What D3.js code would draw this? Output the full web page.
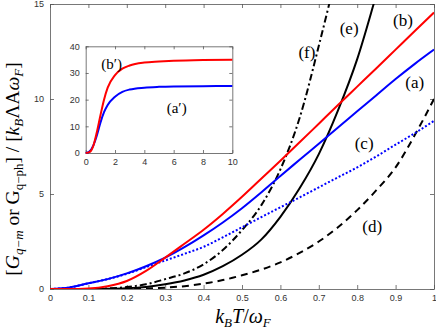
<!DOCTYPE html>
<html>
<head>
<meta charset="utf-8">
<script src="https://cdnjs.cloudflare.com/ajax/libs/d3/7.8.5/d3.min.js"></script>
<style>
body { margin: 0; background: #fff; }
.tick text { font-family: "Liberation Sans", Arial, sans-serif; font-size: 9px; fill: #333; }
.lbl { font-family: "Liberation Serif", "Times New Roman", serif; }
</style>
</head>
<body>
<div id="graph-area"></div>
<script>
// main panel, x = k_B T / w_F
var xs = [0, 0.05, 0.1, 0.15, 0.2, 0.25, 0.3, 0.35, 0.4, 0.45, 0.5, 0.55, 0.6, 0.65, 0.7, 0.75, 0.8, 0.85, 0.9, 0.95, 1.0];
var curveA = [0, 0.08, 0.3, 0.52, 0.82, 1.2, 1.65, 2.2, 2.82, 3.5, 4.25, 5.08, 5.95, 6.8, 7.65, 8.5, 9.35, 10.2, 11.05, 11.85, 12.6];
var curveB = [0, 0, 0.03, 0.15, 0.42, 0.95, 1.65, 2.38, 3.12, 3.95, 4.85, 5.8, 6.75, 7.72, 8.7, 9.68, 10.65, 11.62, 12.6, 13.58, 14.55];
var curveC = [0, 0.08, 0.3, 0.52, 0.8, 1.15, 1.5, 1.85, 2.22, 2.72, 3.25, 3.78, 4.3, 4.82, 5.35, 5.88, 6.4, 6.98, 7.6, 8.2, 8.85];
var curveD = [0, 0, 0, 0, 0.01, 0.03, 0.07, 0.15, 0.28, 0.47, 0.72, 1.02, 1.4, 1.9, 2.5, 3.25, 4.15, 5.2, 6.4, 8.1, 10.0];
var curveE = [0, 0, 0, 0.01, 0.04, 0.11, 0.25, 0.45, 0.75, 1.2, 1.8, 2.6, 3.8, 5.3, 7.1, 9.4, 12.1, 15.5, 19, 23, 27];
var curveF = [0, 0, 0, 0.03, 0.1, 0.25, 0.52, 0.82, 1.3, 2.05, 3.1, 4.4, 6.3, 9.0, 12.8, 17, 22, 27, 32, 37, 42];

var xTicks = [0, 0.1, 0.2, 0.3, 0.4, 0.5, 0.6, 0.7, 0.8, 0.9, 1];
var yTicks = [0, 5, 10, 15];

// inset, same quantities over a wider range
var insetX = [0, 0.25, 0.5, 0.75, 1, 1.25, 1.5, 2, 2.5, 3, 4, 5, 6, 8, 10];
var insetA = [0, 0.5, 2.6, 6.4, 11.3, 15.3, 18, 21.1, 22.9, 23.8, 24.5, 24.8, 24.95, 25.05, 25.1];
var insetB = [0, 0.3, 2.4, 7.6, 14, 20, 24.5, 29.2, 31.6, 32.8, 33.9, 34.3, 34.6, 34.9, 35.0];
var insetXTicks = [0, 2, 4, 6, 8, 10];
var insetYTicks = [0, 10, 20, 30, 40];

var width = 436, height = 333;

var svg = d3.select("#graph-area").append("svg")
    .attr("width", width)
    .attr("height", height);

var x = d3.scaleLinear().domain([0, 1]).range([50, 434]);
var y = d3.scaleLinear().domain([0, 15]).range([289, 4]);

svg.append("clipPath").attr("id", "clip")
    .append("rect")
    .attr("x", 50).attr("y", 4)
    .attr("width", 384).attr("height", 285);

// frame with inward ticks on all four sides
function frame(g, sx, sy, xt, yt, tl) {
    var x0 = sx.range()[0], x1 = sx.range()[1], y0 = sy.range()[0], y1 = sy.range()[1];
    var fmt = d3.format("~g");
    g.append("g").attr("transform", "translate(0," + y0 + ")")
        .call(d3.axisBottom(sx).tickValues(xt).tickFormat(fmt).tickSizeInner(-tl).tickSizeOuter(0).tickPadding(6));
    g.append("g").attr("transform", "translate(" + x0 + ",0)")
        .call(d3.axisLeft(sy).tickValues(yt).tickFormat(fmt).tickSizeInner(-tl).tickSizeOuter(0).tickPadding(6));
    g.append("g").attr("transform", "translate(0," + y1 + ")")
        .call(d3.axisTop(sx).tickValues(xt).tickSizeInner(-tl).tickSizeOuter(0).tickFormat(""));
    g.append("g").attr("transform", "translate(" + x1 + ",0)")
        .call(d3.axisRight(sy).tickValues(yt).tickSizeInner(-tl).tickSizeOuter(0).tickFormat(""));
    g.selectAll(".domain, .tick line").attr("stroke", "#555").attr("stroke-width", 0.8);
}

var main = svg.append("g");
frame(main, x, y, xTicks, yTicks, 4);

var line = d3.line()
    .x(function(d) { return x(d[0]); })
    .y(function(d) { return y(d[1]); })
    .curve(d3.curveMonotoneX);

var series = [
    {vals: curveD, color: "black", dash: "7,5"},
    {vals: curveE, color: "black", dash: null},
    {vals: curveF, color: "black", dash: "7,3,2,3"},
    {vals: curveC, color: "blue", dash: "2,2"},
    {vals: curveA, color: "blue", dash: null},
    {vals: curveB, color: "red", dash: null}
];

var plot = svg.append("g").attr("clip-path", "url(#clip)");
series.forEach(function(s) {
    plot.append("path")
        .datum(xs.map(function(v, i) { return [v, s.vals[i]]; }))
        .attr("fill", "none")
        .attr("stroke", s.color)
        .attr("stroke-width", 2)
        .attr("stroke-dasharray", s.dash)
        .attr("d", line);
});

// curve labels
var labels = [
    {t: "(a)", x: 0.95, y: 10.6},
    {t: "(b)", x: 0.919, y: 13.82},
    {t: "(c)", x: 0.818, y: 7.37},
    {t: "(d)", x: 0.839, y: 2.99},
    {t: "(e)", x: 0.779, y: 13.4},
    {t: "(f)", x: 0.669, y: 12.17}
];
svg.selectAll(".clabel").data(labels).enter().append("text")
    .attr("class", "lbl")
    .attr("x", function(d) { return x(d.x); })
    .attr("y", function(d) { return y(d.y); })
    .attr("text-anchor", "middle")
    .attr("font-size", 17)
    .text(function(d) { return d.t; });

// inset
var ix = d3.scaleLinear().domain([0, 10]).range([85.7, 232.3]);
var iy = d3.scaleLinear().domain([0, 40]).range([153, 46.3]);
var inset = svg.append("g");
inset.append("rect")
    .attr("x", 85.7).attr("y", 46.3)
    .attr("width", 146.6).attr("height", 106.7)
    .attr("fill", "white");
frame(inset, ix, iy, insetXTicks, insetYTicks, 3);

var iline = d3.line()
    .x(function(d) { return ix(d[0]); })
    .y(function(d) { return iy(d[1]); })
    .curve(d3.curveMonotoneX);

[{vals: insetA, color: "blue"}, {vals: insetB, color: "red"}].forEach(function(s) {
    inset.append("path")
        .datum(insetX.map(function(v, i) { return [v, s.vals[i]]; }))
        .attr("fill", "none")
        .attr("stroke", s.color)
        .attr("stroke-width", 2)
        .attr("d", iline);
});

inset.append("text").attr("class", "lbl")
    .attr("x", 111.7).attr("y", 68.5).attr("text-anchor", "middle").attr("font-size", 15)
    .text("(b\u2032)");
inset.append("text").attr("class", "lbl")
    .attr("x", 176.7).attr("y", 112.5).attr("text-anchor", "middle").attr("font-size", 15)
    .text("(a\u2032)");

// axis titles
var xt = svg.append("text").attr("class", "lbl")
    .attr("x", 243).attr("y", 323).attr("text-anchor", "middle").attr("font-size", 20);
xt.append("tspan").attr("font-style", "italic").text("k");
xt.append("tspan").attr("font-style", "italic").attr("font-size", 13).attr("dy", 4).text("B");
xt.append("tspan").attr("font-style", "italic").attr("dy", -4).text("T");
xt.append("tspan").text("/");
xt.append("tspan").attr("font-style", "italic").text("\u03C9");
xt.append("tspan").attr("font-style", "italic").attr("font-size", 13).attr("dy", 4).text("F");

var yt = svg.append("text").attr("class", "lbl")
    .attr("transform", "translate(19,169) rotate(-90)")
    .attr("text-anchor", "middle").attr("font-size", 19.5);
yt.append("tspan").text("[");
yt.append("tspan").attr("font-style", "italic").text("G");
yt.append("tspan").attr("font-style", "italic").attr("font-size", 13).attr("dy", 4).text("q\u2212m");
yt.append("tspan").attr("dy", -4).text(" or G");
yt.append("tspan").attr("font-size", 13).attr("dy", 4).text("q\u2212ph");
yt.append("tspan").attr("dy", -4).text("] / [");
yt.append("tspan").attr("font-style", "italic").text("k");
yt.append("tspan").attr("font-style", "italic").attr("font-size", 13).attr("dy", 4).text("B");
yt.append("tspan").attr("dy", -4).text("\u039BA");
yt.append("tspan").attr("font-style", "italic").text("\u03C9");
yt.append("tspan").attr("font-style", "italic").attr("font-size", 13).attr("dy", 4).text("F");
yt.append("tspan").attr("dy", -4).text("]");
</script>
</body>
</html>
